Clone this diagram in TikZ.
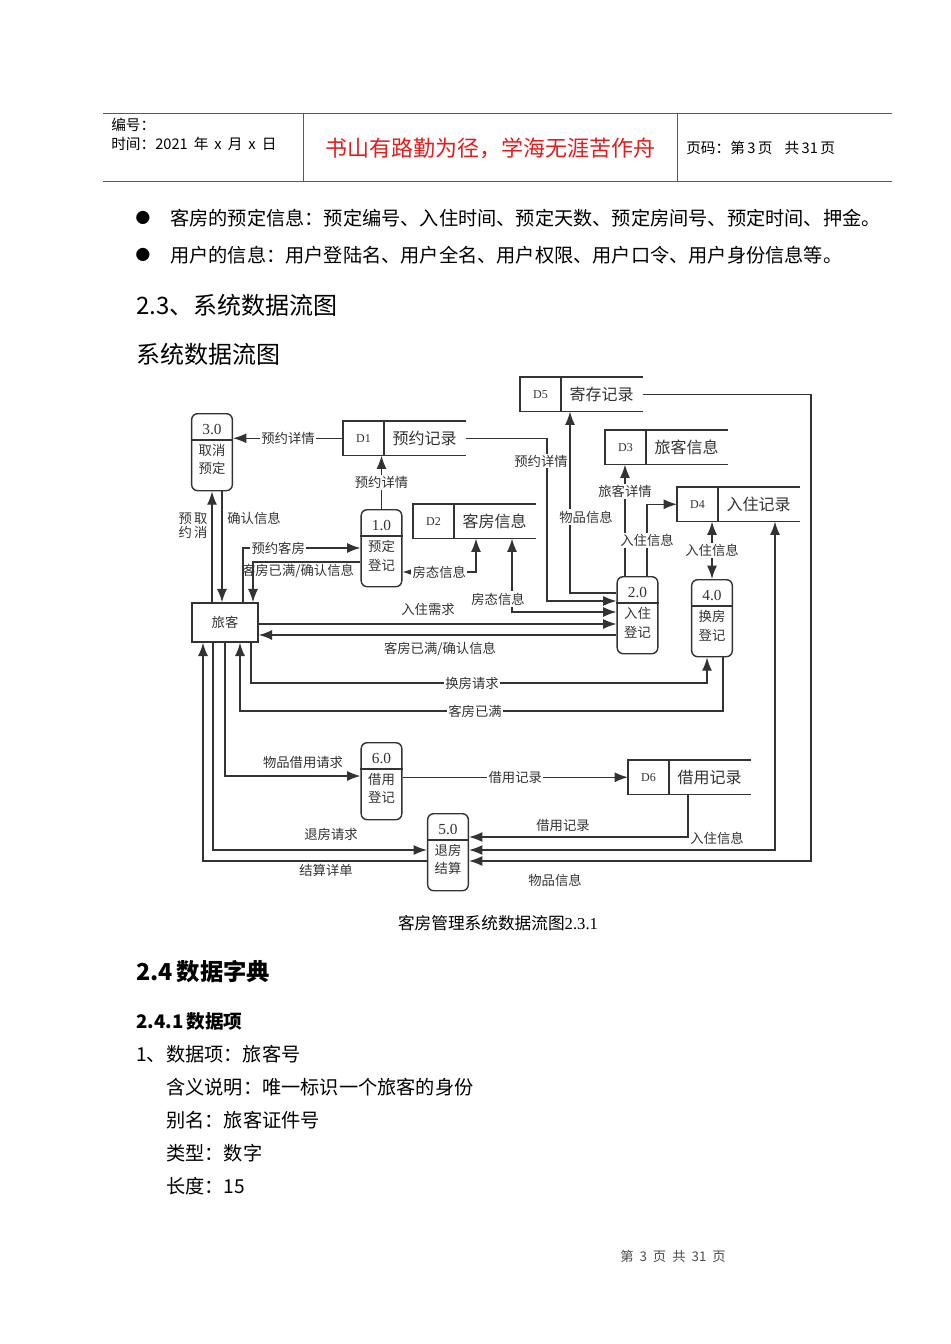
\documentclass[tikz,border=0pt]{standalone}
\usepackage{fontspec}
\setmainfont{Noto Sans CJK SC}
\newfontfamily\lserif{Liberation Serif}
\usetikzlibrary{arrows.meta,calc}
\definecolor{lc}{gray}{0.2}
\definecolor{hdr}{rgb}{0.92,0.1,0.1}
\newcommand\fs[2]{\fontsize{#1}{#2}\selectfont}
\newcommand\gp{\hspace{4.5pt}}
\newcommand\procbox[5]{%
  \node[proc, anchor=north] (#1) at (#2,#3) {};
  \draw[line] ($(#1.north west)+(0,27)$) -- ($(#1.north east)+(0,27)$);
  \node[pnum] (#1n) at ($(#1.north)+(0,17)$) {#4};
  \node[ptxt] (#1t) at ($(#1.north)+(0,46.5)$) {#5};
}
\newcommand\dstore[5]{%
  \node[sbox, anchor=north west] (#1) at (#2,#3) {};
  \draw[line] (#1.north east) -- (#1.north west) -- (#1.south west) -- (#1.south east);
  \draw[line] ($(#1.north west)+(41,0)$) -- ($(#1.south west)+(41,0)$);
  \node[sid] (#1i) at ($(#1.west)+(20.5,0)$) {#4};
  \node[sname] (#1l) at ($(#1.west)+(81.5,0)$) {#5};
}
\begin{document}
\begin{tikzpicture}[x=0.75pt,y=-0.75pt,
  line/.style={draw=lc,line width=1.05pt},
  flow/.style={line,-{Latex[length=10pt,width=7.5pt]}},
  bflow/.style={line,{Latex[length=10pt,width=7.5pt]}-{Latex[length=10pt,width=7.5pt]}},
  lab/.style={font=\fs{10}{12}, text=lc, inner sep=1pt},
  wlab/.style={lab, fill=white},
  proc/.style={line, rounded corners=4.5pt, minimum width=30.5pt, minimum height=57.75pt, inner sep=0pt},
  pnum/.style={font=\lserif\fs{11.5}{13}, text=lc, inner sep=0pt},
  ptxt/.style={font=\fs{10}{14}, text=lc, align=center, inner sep=0pt},
  sbox/.style={minimum width=91.5pt, minimum height=25.5pt, inner sep=0pt},
  sid/.style={font=\lserif\fs{9}{11}, text=lc, inner sep=0pt},
  sname/.style={font=\fs{12}{14}, text=lc, inner sep=0pt},
  txt/.style={inner sep=0pt, anchor=west},
  body/.style={txt, font=\fs{14.4}{16}},
  head/.style={txt, font=\fs{18}{21}},
  hline/.style={draw=black!65, line width=0.7pt}
]
\fill[white] (0,0) rectangle (950,1344);
\useasboundingbox (0,0) rectangle (950,1344);

% ---------- page header ----------
\draw[hline] (103,113) -- (892,113);
\draw[hline] (103,181) -- (892,181);
\draw[hline] (303,113) -- (303,181);
\draw[hline] (677,113) -- (677,181);
\node[txt, font=\fs{11}{13}] (h1) at (111,125) {编号：};
\node[txt, font=\fs{11}{13}] (h2) at (111,144) {时间：2021\gp 年\gp x\gp 月\gp x\gp 日};
\node[inner sep=0pt, font=\fs{16.5}{19}, text=hdr] (h3) at (490,148) {书山有路勤为径，学海无涯苦作舟};
\node[txt, font=\fs{11}{13}] (h4) at (686,148) {页码：第\,3\,页\gp\gp 共\,31\,页};

% ---------- text above ----------
\node[inner sep=0pt, font=\fs{11}{13}] (bu1) at (143,218) {●};
\node[body] (t1) at (170,218) {客房的预定信息：预定编号、入住时间、预定天数、预定房间号、预定时间、押金。};
\node[inner sep=0pt, font=\fs{11}{13}] (bu2) at (143,255) {●};
\node[body] (t2) at (170,255) {用户的信息：用户登陆名、用户全名、用户权限、用户口令、用户身份信息等。};
\node[head] (s23) at (136,305) {2.3、系统数据流图};
\node[head] (s23b) at (136,354) {系统数据流图};

% ---------- processes ----------
\procbox{p3}{212}{413}{3.0}{取消\\预定}
\procbox{p1}{381.5}{509}{1.0}{预定\\登记}
\procbox{p2}{637.5}{576}{2.0}{入住\\登记}
\procbox{p4}{712}{579}{4.0}{换房\\登记}
\procbox{p6}{381.5}{742}{6.0}{借用\\登记}
\procbox{p5}{448}{813}{5.0}{退房\\结算}

% ---------- data stores ----------
\dstore{d1}{343}{421}{D1}{预约记录}
\dstore{d2}{413}{504}{D2}{客房信息}
\dstore{d3}{605}{430}{D3}{旅客信息}
\dstore{d4}{677}{487}{D4}{入住记录}
\dstore{d5}{520}{377}{D5}{寄存记录}
\dstore{d6}{628}{760}{D6}{借用记录}

% ---------- external entity ----------
\node[line, minimum width=49.5pt, minimum height=29.25pt, inner sep=0pt, font=\fs{10}{12}, text=lc] (lk) at (225,622.5) {旅客};

% ---------- bend points ----------
\coordinate (b1) at (547,601);
\coordinate (b2) at (476,572);
\coordinate (b3) at (512,612);
\coordinate (b4) at (570,593);
\coordinate (b5) at (625,0);
\coordinate (b6) at (647,504);
\coordinate (b7) at (775,850);
\coordinate (b8) at (811,861);
\coordinate (b9) at (688,837);
\coordinate (c1) at (222,0);
\coordinate (c2) at (243,548);
\coordinate (c3) at (253,562);
\coordinate (c4) at (0,624);
\coordinate (c5) at (0,635);
\coordinate (c6) at (251,683);
\coordinate (c7) at (707,683);
\coordinate (c8) at (723,711);
\coordinate (c9) at (240,711);
\coordinate (c10) at (225,776);
\coordinate (c11) at (213,850);
\coordinate (c12) at (203,861);

% ---------- flows ----------
\draw[flow] (d1.west) -- node[wlab]{预约详情} (p3.east |- d1.west);
\draw[flow] (p1.north) -- node[wlab]{预约详情} (p1.north |- d1.south);
\draw[flow] (d1.east) -| (b1) -- (p2.west |- b1);
\node[wlab] (l3) at (541,461) {预约详情};
\draw[bflow] (d2.south -| b2) |- node[wlab, pos=0.75]{房态信息} (p1.east |- b2);
\draw[bflow] (d2.south -| b3) |- (p2.west |- b3);
\node[wlab] (l5) at (498,599) {房态信息};
\draw[flow] (p2.west |- b4) -| (d5.south -| b4);
\node[wlab] (l6) at (586,517) {物品信息};
\draw[flow] (p2.north -| b5) -- node[wlab, pos=0.76]{旅客详情} (d3.south -| b5);
\draw[flow] (p2.north -| b6) |- node[wlab, pos=0.25]{入住信息} (d4.west);
\draw[bflow] (p4.north) -- node[wlab]{入住信息} (p4.north |- d4.south);
\draw[bflow] (d4.south -| b7) |- (p5.east |- b7);
\node[lab] (l10) at (717,838) {入住信息};
\draw[flow] (d5.east) -| (b8) -- (p5.east |- b8);
\node[lab] (l11) at (555,880) {物品信息};
\draw[flow] (d6.south -| b9) |- (p5.east |- b9);
\node[lab] (l12) at (563,825) {借用记录};
\draw[flow] (p6.east |- d6.west) -- node[wlab]{借用记录} (d6.west);

\draw[flow] (p3.south -| c1) -- (lk.north -| c1);
\node[lab] (l14) at (254,518) {确认信息};
\draw[flow] (lk.north -| p3.south) -- (p3.south);
\node[lab, align=center, font=\fs{10}{10.5}] (l15) at (193,526) {预\,取\\约\,消};
\draw[flow] (lk.north -| c2) |- node[wlab, pos=0.65]{预约客房} (p1.west |- c2);
\draw[flow] (p1.west |- c3) -| (lk.north -| c3);
\node[lab] (l17) at (298,571) {客房已满/确认信息};
\draw[flow] (lk.east |- c4) -- (p2.west |- c4);
\node[lab] (l18) at (428,609) {入住需求};
\draw[flow] (p2.west |- c5) -- (lk.east |- c5);
\node[lab] (l19) at (440,649) {客房已满/确认信息};
\draw[flow] (lk.south -| c6) |- (c7) -- (p4.south -| c7);
\node[wlab] (l20) at (472,683) {换房请求};
\draw[flow] (p4.south -| c8) |- (c9) -- (lk.south -| c9);
\node[wlab] (l21) at (475,711) {客房已满};
\draw[flow] (lk.south -| c10) |- (p6.west |- c10);
\node[lab] (l22) at (303,762) {物品借用请求};
\draw[flow] (lk.south -| c11) |- (p5.west |- c11);
\node[lab] (l23) at (331,834) {退房请求};
\draw[flow] (p5.west |- c12) -| (lk.south -| c12);
\node[lab] (l24) at (326,870) {结算详单};

% ---------- caption and text below ----------
\node[inner sep=0pt, font=\fs{12.5}{14}] (cap) at (498,923) {客房管理系统数据流图{\lserif 2.3.1}};
\node[head, font=\bfseries\fs{17.5}{21}] (s24) at (136,972) {2.4\,数据字典};
\node[txt, font=\bfseries\fs{14}{16}] (s241) at (136,1021) {2.4.1\,数据项};
\node[body] (u1) at (136,1054) {1、数据项：旅客号};
\node[body] (u2) at (166,1087) {含义说明：唯一标识一个旅客的身份};
\node[body] (u3) at (166,1120) {别名：旅客证件号};
\node[body] (u4) at (166,1153) {类型：数字};
\node[body] (u5) at (166,1186) {长度：15};
\node[inner sep=0pt, font=\fs{10}{12}, text=black!70] (ft) at (673,1256) {第\ \ 3\ \ 页\ \ 共\ \ 31\ \ 页};
\end{tikzpicture}
\end{document}
